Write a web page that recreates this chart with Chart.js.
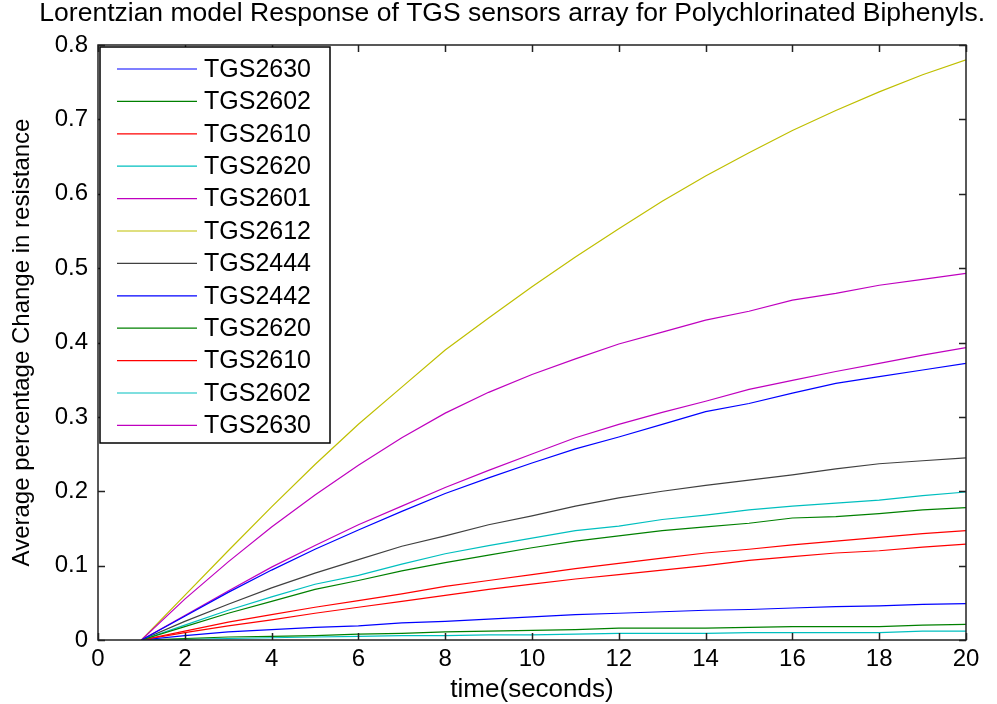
<!DOCTYPE html>
<html>
<head>
<meta charset="utf-8">
<title>Lorentzian model Response of TGS sensors array</title>
<script src="https://cdn.jsdelivr.net/npm/chart.js@4.4.1/dist/chart.umd.min.js"></script>
<style>
  html, body { margin: 0; padding: 0; background: #fff; }
  #wrap { width: 997px; height: 704px; }
</style>
</head>
<body>
<div id="wrap"><canvas id="chart"></canvas></div>
<script>
// time axis (seconds)
const timeSeconds = [1, 2, 3, 4, 5, 6, 7, 8, 9, 10, 11, 12, 13, 14, 15, 16, 17, 18, 19, 20];

const sensorLabels = ['TGS2630', 'TGS2602', 'TGS2610', 'TGS2620', 'TGS2601', 'TGS2612',
  'TGS2444', 'TGS2442', 'TGS2620', 'TGS2610', 'TGS2602', 'TGS2630'];

// MATLAB default line colours, in plotting order
const sensorColors = ['#0000ff', '#008000', '#ff0000', '#00bfbf', '#bf00bf', '#bfbf00',
  '#404040', '#0000ff', '#008000', '#ff0000', '#00bfbf', '#bf00bf'];

// average percentage change in resistance
const s2630a = [0, 0.032, 0.064, 0.094, 0.122, 0.148, 0.173, 0.197, 0.218, 0.238, 0.257, 0.273, 0.290, 0.307, 0.318, 0.332, 0.345, 0.354, 0.363, 0.372];
const s2602a = [0, 0.018, 0.036, 0.052, 0.068, 0.080, 0.093, 0.104, 0.114, 0.124, 0.133, 0.140, 0.147, 0.152, 0.157, 0.164, 0.166, 0.170, 0.175, 0.178];
const s2610a = [0, 0.012, 0.024, 0.034, 0.044, 0.053, 0.062, 0.072, 0.080, 0.088, 0.096, 0.103, 0.110, 0.117, 0.122, 0.128, 0.133, 0.138, 0.143, 0.147];
const s2620a = [0, 0.020, 0.040, 0.058, 0.075, 0.087, 0.102, 0.116, 0.127, 0.137, 0.147, 0.153, 0.162, 0.168, 0.175, 0.180, 0.184, 0.188, 0.194, 0.199];
const s2601 = [0, 0.055, 0.105, 0.152, 0.195, 0.235, 0.272, 0.305, 0.333, 0.357, 0.378, 0.398, 0.414, 0.430, 0.442, 0.457, 0.466, 0.477, 0.485, 0.493];
const s2612 = [0, 0.060, 0.120, 0.179, 0.236, 0.290, 0.340, 0.390, 0.433, 0.475, 0.515, 0.553, 0.590, 0.624, 0.655, 0.685, 0.712, 0.737, 0.760, 0.780];
const s2444 = [0, 0.025, 0.048, 0.070, 0.090, 0.108, 0.126, 0.140, 0.155, 0.167, 0.180, 0.191, 0.200, 0.208, 0.215, 0.222, 0.230, 0.237, 0.241, 0.245];
const s2442 = [0, 0.006, 0.011, 0.014, 0.017, 0.019, 0.023, 0.025, 0.028, 0.031, 0.034, 0.036, 0.038, 0.040, 0.041, 0.043, 0.045, 0.046, 0.048, 0.049];
const s2620b = [0, 0.002, 0.004, 0.005, 0.006, 0.008, 0.009, 0.011, 0.012, 0.013, 0.014, 0.016, 0.016, 0.016, 0.017, 0.018, 0.018, 0.018, 0.020, 0.021];
const s2610b = [0, 0.010, 0.019, 0.027, 0.036, 0.044, 0.052, 0.060, 0.068, 0.075, 0.082, 0.088, 0.094, 0.100, 0.107, 0.112, 0.117, 0.120, 0.125, 0.129];
const s2602b = [0, 0.001, 0.002, 0.003, 0.004, 0.005, 0.006, 0.006, 0.007, 0.007, 0.008, 0.009, 0.009, 0.009, 0.010, 0.010, 0.010, 0.010, 0.012, 0.012];
const s2630b = [0, 0.033, 0.066, 0.098, 0.127, 0.155, 0.180, 0.205, 0.228, 0.250, 0.272, 0.290, 0.306, 0.321, 0.337, 0.349, 0.361, 0.372, 0.383, 0.393];

const seriesValues = [s2630a, s2602a, s2610a, s2620a, s2601, s2612, s2444, s2442, s2620b, s2610b, s2602b, s2630b];

const FONT = 'Liberation Sans, Arial, Helvetica, sans-serif';

// Draws the MATLAB style box, inward ticks and the legend inside the axes
const matlabAxes = {
  id: 'matlabAxes',
  afterDatasetsDraw(chart) {
    const { ctx, chartArea: a, scales } = chart;
    const tick = 7;
    ctx.save();
    ctx.strokeStyle = '#222';
    ctx.lineWidth = 1.5;
    ctx.beginPath();
    scales.x.ticks.forEach((t) => {
      const px = Math.round(scales.x.getPixelForValue(t.value)) + 0.5;
      ctx.moveTo(px, a.bottom); ctx.lineTo(px, a.bottom - tick);
      ctx.moveTo(px, a.top); ctx.lineTo(px, a.top + tick);
    });
    scales.y.ticks.forEach((t) => {
      const py = Math.round(scales.y.getPixelForValue(t.value)) + 0.5;
      ctx.moveTo(a.left, py); ctx.lineTo(a.left + tick, py);
      ctx.moveTo(a.right, py); ctx.lineTo(a.right - tick, py);
    });
    ctx.stroke();

    // legend box
    const lx = a.left + 2, ly = a.top + 2, lw = 230, lh = 396;
    ctx.fillStyle = '#fff';
    ctx.fillRect(lx, ly, lw, lh);
    ctx.strokeStyle = '#000';
    ctx.lineWidth = 1.5;
    ctx.strokeRect(lx, ly, lw, lh);
    ctx.font = '25px ' + FONT;
    ctx.textBaseline = 'middle';
    ctx.textAlign = 'left';
    chart.data.datasets.forEach((ds, i) => {
      const y = ly + 22 + i * 32.4;
      ctx.strokeStyle = ds.borderColor;
      ctx.lineWidth = 1.2;
      ctx.beginPath();
      ctx.moveTo(lx + 17, y); ctx.lineTo(lx + 97, y);
      ctx.stroke();
      ctx.fillStyle = '#000';
      ctx.fillText(ds.label, lx + 104, y + 1);
    });

    // axes box
    ctx.strokeStyle = '#222';
    ctx.lineWidth = 1.5;
    ctx.strokeRect(a.left, a.top, a.right - a.left, a.bottom - a.top);
    ctx.restore();
  }
};

const datasets = sensorLabels.map((label, i) => ({
  label: label,
  data: timeSeconds.map((t, k) => ({ x: t, y: seriesValues[i][k] })),
  borderColor: sensorColors[i],
  backgroundColor: sensorColors[i],
  borderWidth: 1.2,
  pointRadius: 0,
  tension: 0,
  fill: false
}));

new Chart(document.getElementById('chart'), {
  type: 'line',
  data: { datasets: datasets },
  options: {
    responsive: true,
    maintainAspectRatio: false,
    animation: false,
    layout: { padding: { left: 0, right: 12, top: 0, bottom: 0 } },
    plugins: {
      legend: { display: false },
      tooltip: { enabled: false },
      title: {
        display: true,
        align: 'end',
        text: 'Lorentzian model Response of TGS sensors array for Polychlorinated Biphenyls.',
        color: '#000',
        font: { family: FONT, size: 26.5, weight: 'normal', lineHeight: 1.0 },
        padding: { top: 0, bottom: 18.5 }
      }
    },
    scales: {
      x: {
        type: 'linear',
        min: 0,
        max: 20,
        ticks: { stepSize: 2, color: '#000', font: { family: FONT, size: 24 }, padding: 5, maxRotation: 0 },
        grid: { display: false, drawTicks: false },
        border: { display: false },
        title: { display: true, text: 'time(seconds)', color: '#000', font: { family: FONT, size: 26, lineHeight: 1.0 }, padding: { top: 0, bottom: 1 } },
        afterFit(scale) { scale.height = 64; }
      },
      y: {
        type: 'linear',
        min: 0,
        max: 0.8,
        ticks: { stepSize: 0.1, color: '#000', font: { family: FONT, size: 24 }, padding: 10 },
        grid: { display: false, drawTicks: false },
        border: { display: false },
        title: { display: true, text: 'Average percentage Change in resistance', color: '#000', font: { family: FONT, size: 24 }, padding: { top: 8, bottom: 0 } },
        afterFit(scale) { scale.width = 98; }
      },
      // empty right-hand strip so the plot box ends where the reference's does
      yRight: {
        type: 'linear',
        position: 'right',
        min: 0,
        max: 0.8,
        ticks: { display: false },
        grid: { display: false, drawTicks: false },
        border: { display: false },
        afterFit(scale) { scale.width = 19; }
      }
    }
  },
  plugins: [matlabAxes]
});
</script>
</body>
</html>
